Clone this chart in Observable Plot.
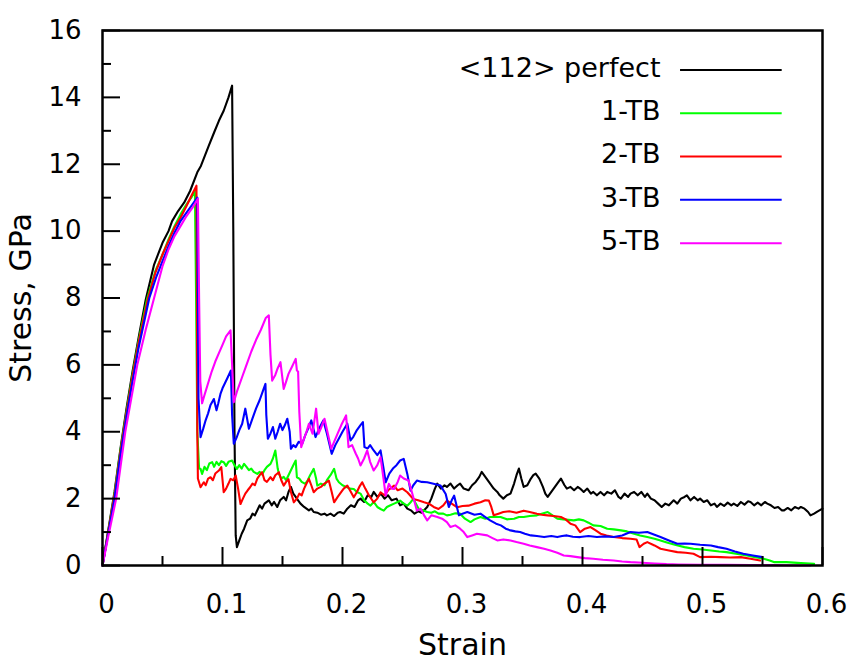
<!DOCTYPE html>
<html><head><meta charset="utf-8">
<script src="https://cdn.jsdelivr.net/npm/d3@7"></script>
<script src="https://cdn.jsdelivr.net/npm/@observablehq/plot@0.6"></script>
<style>body{margin:0;background:#fff} svg{font-family:"DejaVu Sans"}</style>
</head><body><div id="chart"></div>
<script>
// ---- data: [strain, stress (GPa)] ----
const perfect = [[0,0],[0.005,1.1],[0.01,2.2],[0.015,3.5],[0.02,4.7],[0.025,5.8],[0.03,6.8],[0.036,7.95],[0.043,9.0],[0.05,9.65],[0.055,10.0],[0.058,10.3],[0.063,10.6],[0.068,10.85],[0.073,11.2],[0.079,11.76],[0.082,11.95],[0.0886,12.56],[0.093,12.95],[0.097,13.3],[0.101,13.6],[0.105,14.0],[0.108,14.35],[0.109,10.0],[0.110,4.0],[0.111,0.9],[0.112,0.55],
[0.114,0.75],[0.116,0.95],[0.118,1.1],[0.1206,1.35],[0.123,1.4],[0.125,1.55],[0.127,1.5],[0.129,1.65],[0.131,1.8],[0.133,1.7],[0.135,1.85],[0.1386,1.95],[0.141,1.8],[0.143,1.9],[0.1456,1.75],[0.148,1.95],[0.151,2.05],[0.153,1.95],[0.155,2.2],[0.157,2.35],[0.159,2.15],[0.161,2.05],[0.163,1.95],[0.165,1.85],[0.168,1.75],[0.17,1.7],[0.172,1.65],[0.174,1.7],[0.176,1.6],[0.179,1.58],[0.182,1.52],[0.185,1.55],[0.187,1.5],[0.19,1.55],[0.193,1.48],[0.196,1.58],[0.198,1.6],[0.201,1.55],[0.204,1.7],[0.207,1.8],[0.21,1.75],[0.213,1.95],[0.215,2.0],[0.218,1.9],[0.221,2.1],[0.224,2.05],[0.226,2.2],[0.229,2.05],[0.232,2.15],[0.235,2.0],[0.238,2.1],[0.241,1.95],[0.245,2.0],[0.248,1.8],[0.251,1.85],[0.254,1.7],[0.257,1.65],[0.26,1.55],[0.263,1.62],[0.266,1.58],[0.2706,1.75],[0.274,2.0],[0.277,2.3],[0.279,2.45],[0.282,2.3],[0.285,2.4],[0.287,2.35],[0.29,2.45],[0.293,2.3],[0.296,2.4],[0.298,2.45],[0.301,2.3],[0.305,2.25],[0.308,2.4],[0.311,2.5],[0.314,2.65],[0.316,2.8],[0.319,2.65],[0.322,2.5],[0.326,2.3],[0.329,2.2],[0.331,2.1],[0.334,2.0],[0.337,2.1],[0.34,2.15],[0.343,2.45],[0.345,2.7],[0.347,2.9],[0.349,2.6],[0.351,2.35],[0.354,2.4],[0.357,2.6],[0.359,2.7],[0.361,2.75],[0.364,2.6],[0.367,2.35],[0.369,2.15],[0.371,2.05],[0.374,2.2],[0.377,2.35],[0.38,2.5],[0.382,2.6],[0.385,2.4],[0.387,2.3],[0.39,2.35],[0.393,2.25],[0.396,2.35],[0.398,2.3],[0.401,2.2],[0.404,2.3],[0.407,2.15],[0.409,2.2],[0.412,2.1],[0.415,2.2],[0.418,2.1],[0.4206,2.2],[0.424,2.15],[0.427,2.25],[0.43,2.05],[0.432,2.0],[0.435,2.15],[0.438,2.05],[0.44,2.15],[0.443,2.2],[0.446,2.1],[0.449,2.2],[0.452,2.05],[0.454,2.15],[0.457,2.0],[0.46,1.95],[0.463,1.85],[0.466,1.75],[0.469,1.85],[0.472,1.8],[0.476,1.95],[0.479,1.85],[0.482,2.0],[0.485,2.05],[0.487,2.1],[0.49,1.95],[0.493,2.05],[0.496,1.95],[0.498,2.0],[0.501,1.9],[0.504,1.95],[0.507,1.8],[0.51,1.85],[0.512,1.75],[0.515,1.85],[0.518,1.78],[0.521,1.88],[0.524,1.8],[0.526,1.85],[0.529,1.78],[0.532,1.9],[0.535,1.82],[0.538,1.92],[0.54,1.9],[0.543,1.8],[0.546,1.88],[0.549,1.8],[0.552,1.9],[0.554,1.85],[0.557,1.8],[0.56,1.72],[0.563,1.75],[0.566,1.65],[0.568,1.65],[0.571,1.72],[0.574,1.65],[0.577,1.75],[0.58,1.7],[0.582,1.75],[0.585,1.7],[0.588,1.6],[0.59,1.5],[0.593,1.55],[0.596,1.62],[0.6,1.7]];

const tb1 = [[0,0],[0.005,1.05],[0.01,2.15],[0.015,3.45],[0.02,4.6],[0.025,5.7],[0.03,6.7],[0.037,7.95],[0.044,8.8],[0.05,9.3],[0.055,9.75],[0.06,10.15],[0.065,10.5],[0.07,10.8],[0.074,11.0],[0.077,11.2],[0.078,8.0],[0.079,4.0],[0.0805,2.9],[0.0817,2.89],
[0.083,2.74],[0.085,2.95],[0.087,2.85],[0.089,3.05],[0.0914,3.09],[0.093,2.95],[0.095,3.1],[0.097,3.0],[0.099,3.12],[0.101,3.09],[0.103,2.98],[0.105,3.1],[0.108,3.14],[0.11,3.0],[0.112,2.89],[0.114,3.0],[0.116,2.9],[0.118,3.04],[0.12,2.95],[0.122,2.85],[0.124,2.9],[0.126,2.8],[0.129,2.74],[0.131,2.8],[0.133,2.72],[0.135,2.85],[0.137,2.95],[0.14,3.04],[0.142,3.2],[0.144,3.44],[0.146,2.9],[0.147,2.74],[0.149,2.6],[0.151,2.65],[0.153,2.55],[0.155,2.7],[0.157,2.85],[0.159,3.0],[0.161,3.14],[0.162,2.64],[0.164,2.6],[0.166,2.5],[0.169,2.44],[0.171,2.55],[0.173,2.7],[0.176,2.89],[0.178,2.6],[0.179,2.39],[0.182,2.45],[0.185,2.4],[0.187,2.55],[0.19,2.7],[0.193,2.89],[0.195,2.6],[0.197,2.49],[0.2,2.4],[0.203,2.35],[0.206,2.3],[0.2094,2.29],[0.212,2.2],[0.215,2.15],[0.218,1.95],[0.221,1.85],[0.2233,1.79],[0.226,1.9],[0.229,1.75],[0.2317,1.69],[0.2344,1.64],[0.237,1.75],[0.24,1.8],[0.243,1.85],[0.246,1.9],[0.248,1.94],[0.251,1.85],[0.254,1.79],[0.257,1.9],[0.259,1.99],[0.2636,1.69],[0.267,1.65],[0.2706,1.6],[0.274,1.58],[0.277,1.62],[0.28,1.55],[0.284,1.55],[0.287,1.5],[0.29,1.52],[0.294,1.56],[0.298,1.55],[0.302,1.4],[0.3067,1.3],[0.31,1.38],[0.315,1.45],[0.319,1.4],[0.323,1.45],[0.3317,1.45],[0.337,1.38],[0.343,1.4],[0.347,1.45],[0.351,1.45],[0.356,1.48],[0.362,1.5],[0.366,1.55],[0.371,1.6],[0.375,1.5],[0.379,1.4],[0.384,1.38],[0.3928,1.35],[0.397,1.38],[0.401,1.35],[0.405,1.28],[0.409,1.2],[0.415,1.18],[0.4206,1.1],[0.426,1.08],[0.432,1.05],[0.437,1.02],[0.443,0.95],[0.448,0.9],[0.454,0.85],[0.46,0.8],[0.465,0.75],[0.471,0.68],[0.477,0.62],[0.485,0.55],[0.4925,0.5],[0.5,0.48],[0.507,0.45],[0.514,0.42],[0.52,0.4],[0.528,0.35],[0.537,0.3],[0.544,0.25],[0.551,0.2],[0.556,0.15],[0.56,0.1],[0.57,0.1],[0.582,0.07],[0.593,0.05]];

const tb2 = [[0,0],[0.005,1.05],[0.01,2.1],[0.015,3.4],[0.02,4.55],[0.025,5.65],[0.03,6.65],[0.038,8.0],[0.044,8.75],[0.05,9.3],[0.055,9.7],[0.06,10.1],[0.065,10.4],[0.07,10.75],[0.074,11.05],[0.0783,11.36],[0.0787,8.0],[0.079,4.0],[0.0795,2.6],[0.0817,2.34],
[0.0844,2.49],[0.086,2.4],[0.088,2.6],[0.09,2.64],[0.092,2.55],[0.094,2.75],[0.097,2.84],[0.099,2.94],[0.101,2.19],[0.103,2.3],[0.105,2.45],[0.1067,2.59],[0.109,2.55],[0.111,2.69],[0.113,2.3],[0.115,1.84],[0.117,2.0],[0.119,2.15],[0.121,2.25],[0.123,2.34],[0.125,2.45],[0.127,2.4],[0.129,2.6],[0.131,2.7],[0.133,2.79],[0.135,2.55],[0.137,2.5],[0.14,2.64],[0.142,2.55],[0.144,2.7],[0.147,2.79],[0.149,2.55],[0.151,2.39],[0.153,2.5],[0.155,2.58],[0.157,2.2],[0.1594,1.89],[0.162,2.0],[0.164,2.15],[0.166,2.1],[0.168,2.3],[0.17,2.45],[0.172,2.59],[0.174,2.4],[0.176,2.19],[0.179,2.3],[0.182,2.35],[0.185,2.45],[0.1886,2.54],[0.191,2.2],[0.193,1.89],[0.196,2.05],[0.199,2.2],[0.201,2.3],[0.204,2.39],[0.207,2.2],[0.2094,2.04],[0.212,2.2],[0.214,2.35],[0.2164,2.49],[0.219,2.3],[0.222,2.1],[0.226,1.89],[0.229,2.0],[0.2317,2.19],[0.235,2.1],[0.238,2.25],[0.243,2.39],[0.246,2.25],[0.25,2.3],[0.254,2.19],[0.259,1.99],[0.263,1.95],[0.268,1.89],[0.272,1.85],[0.276,1.75],[0.28,1.69],[0.284,1.8],[0.287,1.94],[0.291,1.85],[0.2956,1.74],[0.3,1.78],[0.305,1.79],[0.31,1.85],[0.315,1.89],[0.319,1.95],[0.322,1.94],[0.324,1.75],[0.326,1.5],[0.33,1.55],[0.334,1.6],[0.339,1.62],[0.345,1.58],[0.351,1.64],[0.356,1.6],[0.362,1.55],[0.366,1.52],[0.371,1.5],[0.376,1.48],[0.382,1.45],[0.386,1.38],[0.39,1.25],[0.394,1.2],[0.398,1.0],[0.402,1.1],[0.4067,1.15],[0.411,1.05],[0.415,0.95],[0.42,0.9],[0.426,0.85],[0.433,0.82],[0.44,0.8],[0.445,0.78],[0.4475,0.55],[0.451,0.65],[0.454,0.7],[0.46,0.6],[0.465,0.5],[0.472,0.45],[0.479,0.4],[0.486,0.38],[0.4925,0.35],[0.498,0.25],[0.507,0.26],[0.515,0.25],[0.523,0.24],[0.532,0.25],[0.54,0.2],[0.548,0.15]];

const tb3 = [[0,0],[0.005,1.0],[0.01,2.0],[0.015,3.3],[0.02,4.45],[0.025,5.5],[0.03,6.5],[0.039,8.0],[0.045,8.65],[0.05,9.1],[0.055,9.55],[0.06,9.95],[0.065,10.3],[0.07,10.55],[0.075,10.8],[0.079,11.0],[0.0795,8.0],[0.08,5.0],[0.0817,3.84],
[0.084,4.1],[0.086,4.35],[0.088,4.55],[0.09,4.8],[0.0928,4.98],[0.095,4.64],[0.0965,4.85],[0.0983,5.13],[0.1,5.3],[0.102,5.45],[0.104,5.6],[0.107,5.83],[0.108,4.5],[0.1094,3.64],[0.112,3.85],[0.114,4.05],[0.1164,4.24],[0.119,4.69],[0.122,4.09],[0.125,4.4],[0.128,4.7],[0.131,4.95],[0.134,5.25],[0.1358,5.43],[0.1365,4.5],[0.1378,3.79],[0.14,3.95],[0.142,4.14],[0.144,3.79],[0.146,4.0],[0.148,4.24],[0.15,4.05],[0.152,4.2],[0.154,4.39],[0.156,4.0],[0.157,3.49],[0.159,3.6],[0.161,3.54],[0.1635,3.7],[0.1664,3.64],[0.169,3.9],[0.172,4.15],[0.174,4.34],[0.1775,3.84],[0.18,4.05],[0.182,4.2],[0.184,4.34],[0.187,3.95],[0.191,3.34],[0.194,3.6],[0.197,3.8],[0.2,4.0],[0.204,4.24],[0.2067,3.74],[0.209,3.85],[0.212,4.05],[0.215,4.2],[0.217,4.29],[0.2183,3.54],[0.221,3.5],[0.223,3.6],[0.226,3.44],[0.229,3.3],[0.2317,3.44],[0.234,2.95],[0.236,2.49],[0.239,2.75],[0.242,2.9],[0.245,3.0],[0.248,3.14],[0.251,3.19],[0.254,2.74],[0.2567,2.24],[0.259,2.4],[0.262,2.54],[0.266,2.5],[0.2706,2.49],[0.275,2.45],[0.2817,2.39],[0.286,2.14],[0.2886,1.75],[0.291,1.95],[0.293,2.09],[0.295,1.8],[0.297,1.5],[0.3,1.55],[0.304,1.6],[0.31,1.52],[0.315,1.55],[0.319,1.45],[0.323,1.35],[0.328,1.25],[0.332,1.2],[0.336,1.1],[0.34,1.05],[0.344,1.02],[0.348,1.0],[0.352,0.95],[0.357,0.9],[0.362,0.88],[0.368,0.85],[0.374,0.88],[0.379,0.85],[0.383,0.88],[0.387,0.9],[0.392,0.86],[0.398,0.85],[0.405,0.88],[0.412,0.85],[0.419,0.87],[0.426,0.85],[0.433,0.9],[0.44,1.0],[0.447,0.98],[0.454,1.0],[0.46,0.92],[0.465,0.85],[0.472,0.75],[0.479,0.65],[0.485,0.66],[0.49,0.65],[0.498,0.62],[0.507,0.6],[0.513,0.55],[0.52,0.5],[0.527,0.42],[0.534,0.35],[0.542,0.3],[0.55,0.25]];

const tb5 = [[0,0],[0.005,0.9],[0.0114,2.0],[0.015,2.95],[0.019,4.0],[0.024,5.0],[0.029,6.0],[0.036,7.05],[0.043,8.0],[0.05,8.95],[0.055,9.45],[0.06,9.85],[0.065,10.15],[0.07,10.45],[0.075,10.7],[0.0795,10.97],[0.0805,8.0],[0.0815,5.5],[0.083,4.85],
[0.085,5.1],[0.088,5.45],[0.091,5.8],[0.094,6.1],[0.097,6.35],[0.1,6.6],[0.103,6.85],[0.1067,7.03],[0.108,6.0],[0.1094,4.88],[0.112,5.2],[0.116,5.6],[0.12,6.0],[0.124,6.4],[0.128,6.75],[0.132,7.05],[0.136,7.4],[0.1386,7.48],[0.14,6.3],[0.1414,5.53],[0.144,5.7],[0.146,5.9],[0.1483,6.08],[0.151,5.28],[0.153,5.5],[0.155,5.73],[0.158,5.95],[0.161,6.18],[0.162,5.83],[0.163,5.8],[0.164,4.6],[0.1656,3.54],[0.168,3.8],[0.17,4.0],[0.172,4.24],[0.175,3.94],[0.178,4.69],[0.18,3.94],[0.182,4.1],[0.185,4.39],[0.1906,3.49],[0.193,3.7],[0.196,3.95],[0.199,4.2],[0.203,4.49],[0.205,3.54],[0.208,3.6],[0.211,3.35],[0.213,3.2],[0.215,2.99],[0.218,3.2],[0.2206,3.44],[0.223,3.1],[0.226,2.84],[0.229,3.0],[0.2317,3.24],[0.234,2.64],[0.236,2.09],[0.2386,2.44],[0.241,2.3],[0.243,2.29],[0.246,2.5],[0.248,2.69],[0.251,2.6],[0.255,2.54],[0.257,2.3],[0.259,2.04],[0.262,1.64],[0.265,1.7],[0.268,1.5],[0.2706,1.35],[0.274,1.5],[0.279,1.45],[0.283,1.4],[0.287,1.3],[0.29,1.15],[0.294,1.2],[0.298,1.1],[0.301,1.0],[0.304,0.85],[0.308,0.9],[0.312,0.95],[0.3206,0.9],[0.325,0.82],[0.329,0.75],[0.334,0.78],[0.34,0.75],[0.345,0.7],[0.351,0.65],[0.356,0.6],[0.362,0.55],[0.368,0.5],[0.3733,0.45],[0.379,0.38],[0.3844,0.3],[0.39,0.28],[0.3956,0.25],[0.402,0.22],[0.409,0.2],[0.417,0.17],[0.426,0.15],[0.433,0.12],[0.44,0.1],[0.45,0.08],[0.46,0.06],[0.47,0.04],[0.48,0.03],[0.5,0.02],[0.52,0.02],[0.54,0.01],[0.56,0.01],[0.58,0.0],[0.59,0.0]];

const seriesNames = ["<112> perfect", "1-TB", "2-TB", "3-TB", "5-TB"];
const seriesColors = ["#000000", "#00ff00", "#ff0000", "#0000ff", "#ff00ff"];
const xMajorTicks = [0, 0.1, 0.2, 0.3, 0.4, 0.5, 0.6];
const xMinorTicks = [0.05, 0.15, 0.25, 0.35, 0.45, 0.55];
const yMajorTicks = [0, 2, 4, 6, 8, 10, 12, 14, 16];
const yMinorTicks = [1, 3, 5, 7, 9, 11, 13, 15];

// ---- layout ----
const W = 866, H = 670, mL = 102, mR = 44, mT = 30, mB = 105;
const plotW = W - mL - mR, plotH = H - mT - mB;
const legend = {textX: 0.465, lineX1: 0.4817, lineX2: 0.5664, top: 14.82, step: 1.295};

const rows = [];
[perfect, tb1, tb2, tb3, tb5].forEach((arr, i) =>
  arr.forEach(([x, y]) => rows.push({series: seriesNames[i], strain: x, stress: y})));
const legendRows = seriesNames.map((name, i) => ({name, y: legend.top - i * legend.step}));

const chart = Plot.plot({
  width: W, height: H,
  marginLeft: mL, marginRight: mR, marginTop: mT, marginBottom: mB,
  style: {fontFamily: "DejaVu Sans", fontSize: "26px", background: "white", color: "black"},
  x: {domain: [0, 0.6]},
  y: {domain: [0, 16]},
  color: {domain: seriesNames, range: seriesColors},
  marks: [
    Plot.line(rows, {x: "strain", y: "stress", z: "series", stroke: "series", strokeWidth: 2.1}),
    Plot.ruleX(xMajorTicks, {x: d => d, insetTop: plotH - 18, stroke: "black", strokeWidth: 2}),
    Plot.ruleX(xMinorTicks, {x: d => d, insetTop: plotH - 9, stroke: "black", strokeWidth: 2}),
    Plot.ruleY(yMajorTicks, {y: d => d, insetRight: plotW - 18, stroke: "black", strokeWidth: 2}),
    Plot.ruleY(yMinorTicks, {y: d => d, insetRight: plotW - 9, stroke: "black", strokeWidth: 2}),
    Plot.axisX({ticks: xMajorTicks, tickSize: 0, tickPadding: 29, dx: 4, fontSize: 26, label: null,
      tickFormat: d => d === 0 ? "0" : d.toFixed(1)}),
    Plot.axisY({ticks: yMajorTicks, tickSize: 0, tickPadding: 21, fontSize: 26, label: null}),
    Plot.text(["Strain"], {frameAnchor: "bottom", dy: 89, lineAnchor: "bottom", textAnchor: "middle", fontSize: 30, fill: "black"}),
    Plot.text(["Stress, GPa"], {frameAnchor: "left", rotate: -90, dx: -72, lineAnchor: "bottom", textAnchor: "middle", fontSize: 30, fill: "black"}),
    Plot.ruleY(legendRows, {y: "y", x1: () => legend.lineX1, x2: () => legend.lineX2, stroke: "name", strokeWidth: 2}),
    Plot.text(legendRows, {x: () => legend.textX, y: "y", text: "name", textAnchor: "end", dy: -2, fontSize: 27, fill: "black"}),
    Plot.frame({stroke: "black", strokeWidth: 2.5})
  ]
});
document.getElementById("chart").appendChild(chart);
</script>
</body></html>
